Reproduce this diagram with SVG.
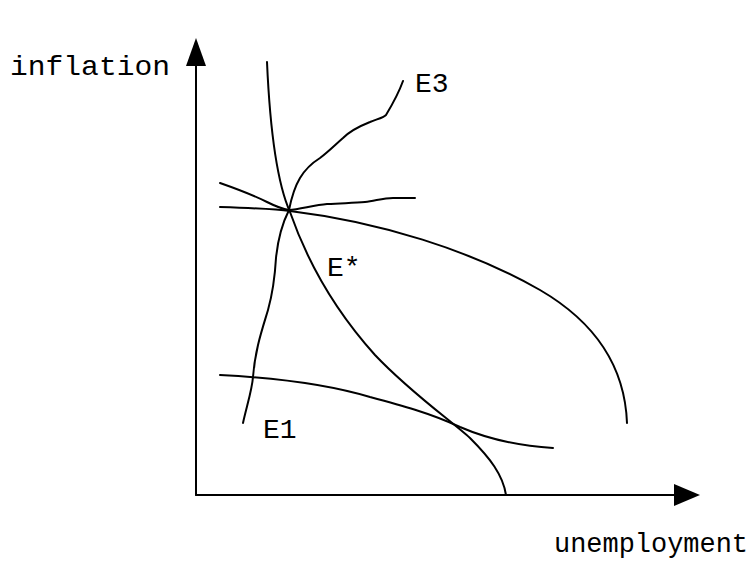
<svg xmlns="http://www.w3.org/2000/svg" width="755" height="561" viewBox="0 0 755 561">
<style>
.c{fill:none;stroke:#000;stroke-width:2;stroke-linecap:round;stroke-linejoin:round}
.t{font-family:"Liberation Mono","DejaVu Sans Mono",monospace;font-size:28px;fill:#000}
</style>
<rect width="755" height="561" fill="#fff"/>
<g id="axes">
<line class="c" x1="196" y1="495" x2="196" y2="60" stroke-width="2.5"/>
<polygon points="196,38 186,66 206,66" fill="#000"/>
<line class="c" x1="196" y1="495" x2="680" y2="495" stroke-width="2.5"/>
<polygon points="700,495 674,484 674,506" fill="#000"/>
</g>
<g id="connectors">
<path class="c" d="M267,62 C270,130 278,185 290,212 C305,255 330,305 375,355 C410,392 450,420 470,438 C490,458 503,475 506,495"/>
<path class="c" d="M220,207 C250,208 275,209 290,211 C380,222 470,250 540,290 C600,325 625,370 627,423"/>
<path class="c" stroke-width="2.5" d="M220,183 C240,190 255,196 267,202 C275,206 282,209 289,210 C300,209 315,205 327,204 C345,203 355,203 365,202 C375,201 383,198 393,198 L415,198"/>
<path class="c" stroke-width="2.5" d="M243,423 C247,405 252,390 253,377 C255,350 262,330 268,310 C273,292 275,275 276,258 C278,238 283,222 289,210 C291,200 294,188 300,178 C306,168 312,163 320,158 C328,152 335,145 343,138 C350,131 360,126 370,122 C377,119 383,118 386,115 C392,105 398,95 403,81"/>
<path class="c" stroke-width="2.5" d="M220,375 C260,377 320,382 370,397 C400,405 430,413 460,427 C490,440 520,446 553,448"/>
</g>
<g id="labels">
<text class="t" x="10" y="75" textLength="160" lengthAdjust="spacingAndGlyphs">inflation</text>
<text class="t" x="554" y="552" textLength="194" lengthAdjust="spacingAndGlyphs">unemployment</text>
<text class="t" x="415" y="92">E3</text>
<text class="t" x="327" y="276">E*</text>
<text class="t" x="263" y="438">E1</text>
</g>
</svg>
